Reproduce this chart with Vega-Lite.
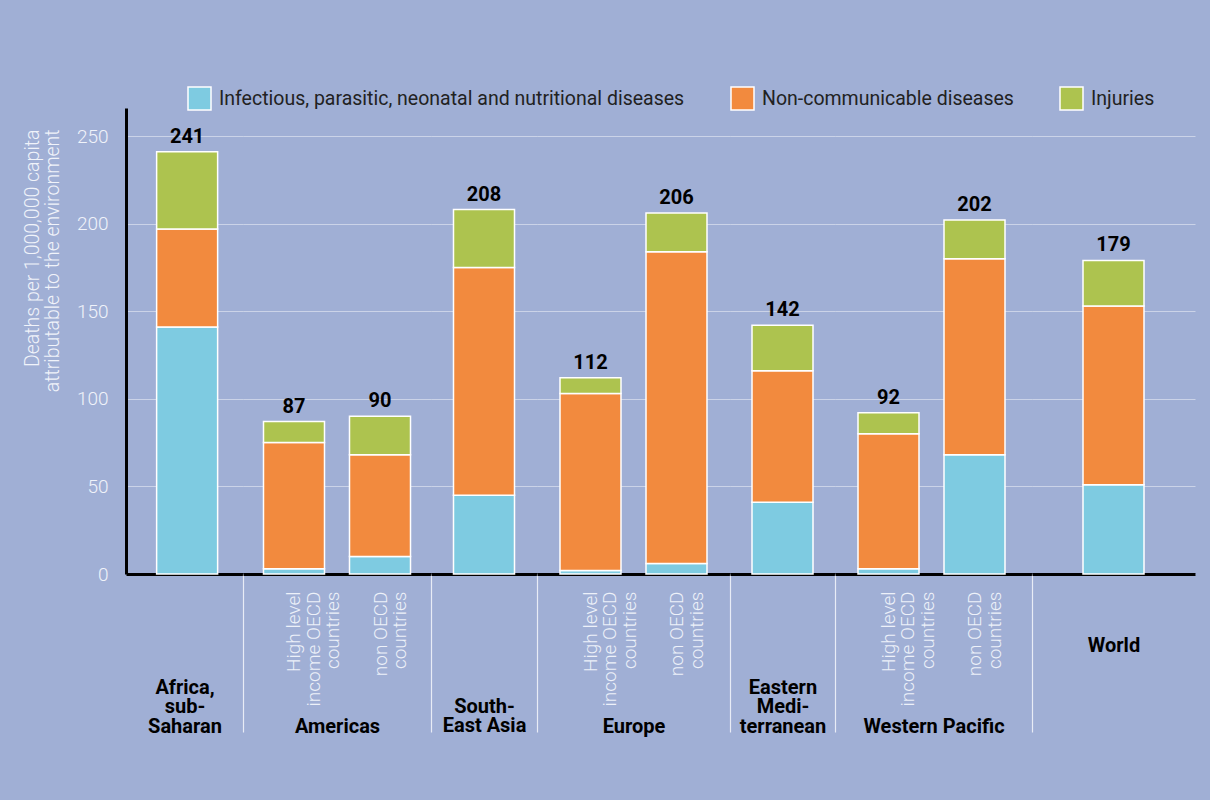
{
  "$schema": "https://vega.github.io/schema/vega-lite/v6.json",
  "background": "#a0afd5",
  "padding": {"left": 22, "top": 86, "right": 15, "bottom": 66},
  "bounds": "flush",
  "spacing": 0,
  "datasets": {
    "deaths": [
      {"region": "Africa, sub-Saharan", "sub": "all", "cause": "Infectious, parasitic, neonatal and nutritional diseases", "value": 141},
      {"region": "Africa, sub-Saharan", "sub": "all", "cause": "Non-communicable diseases", "value": 56},
      {"region": "Africa, sub-Saharan", "sub": "all", "cause": "Injuries", "value": 44},
      {"region": "Americas", "sub": "High level income OECD countries", "cause": "Infectious, parasitic, neonatal and nutritional diseases", "value": 3},
      {"region": "Americas", "sub": "High level income OECD countries", "cause": "Non-communicable diseases", "value": 72},
      {"region": "Americas", "sub": "High level income OECD countries", "cause": "Injuries", "value": 12},
      {"region": "Americas", "sub": "non OECD countries", "cause": "Infectious, parasitic, neonatal and nutritional diseases", "value": 10},
      {"region": "Americas", "sub": "non OECD countries", "cause": "Non-communicable diseases", "value": 58},
      {"region": "Americas", "sub": "non OECD countries", "cause": "Injuries", "value": 22},
      {"region": "South-East Asia", "sub": "all", "cause": "Infectious, parasitic, neonatal and nutritional diseases", "value": 45},
      {"region": "South-East Asia", "sub": "all", "cause": "Non-communicable diseases", "value": 130},
      {"region": "South-East Asia", "sub": "all", "cause": "Injuries", "value": 33},
      {"region": "Europe", "sub": "High level income OECD countries", "cause": "Infectious, parasitic, neonatal and nutritional diseases", "value": 2},
      {"region": "Europe", "sub": "High level income OECD countries", "cause": "Non-communicable diseases", "value": 101},
      {"region": "Europe", "sub": "High level income OECD countries", "cause": "Injuries", "value": 9},
      {"region": "Europe", "sub": "non OECD countries", "cause": "Infectious, parasitic, neonatal and nutritional diseases", "value": 6},
      {"region": "Europe", "sub": "non OECD countries", "cause": "Non-communicable diseases", "value": 178},
      {"region": "Europe", "sub": "non OECD countries", "cause": "Injuries", "value": 22},
      {"region": "Eastern Mediterranean", "sub": "all", "cause": "Infectious, parasitic, neonatal and nutritional diseases", "value": 41},
      {"region": "Eastern Mediterranean", "sub": "all", "cause": "Non-communicable diseases", "value": 75},
      {"region": "Eastern Mediterranean", "sub": "all", "cause": "Injuries", "value": 26},
      {"region": "Western Pacific", "sub": "High level income OECD countries", "cause": "Infectious, parasitic, neonatal and nutritional diseases", "value": 3},
      {"region": "Western Pacific", "sub": "High level income OECD countries", "cause": "Non-communicable diseases", "value": 77},
      {"region": "Western Pacific", "sub": "High level income OECD countries", "cause": "Injuries", "value": 12},
      {"region": "Western Pacific", "sub": "non OECD countries", "cause": "Infectious, parasitic, neonatal and nutritional diseases", "value": 68},
      {"region": "Western Pacific", "sub": "non OECD countries", "cause": "Non-communicable diseases", "value": 112},
      {"region": "Western Pacific", "sub": "non OECD countries", "cause": "Injuries", "value": 22},
      {"region": "World", "sub": "all", "cause": "Infectious, parasitic, neonatal and nutritional diseases", "value": 51},
      {"region": "World", "sub": "all", "cause": "Non-communicable diseases", "value": 102},
      {"region": "World", "sub": "all", "cause": "Injuries", "value": 26}
    ]
  },
  "data": {"name": "deaths"},
  "resolve": {
    "scale": {"x": "independent", "y": "independent", "color": "shared"},
    "axis": {"x": "independent", "y": "independent"},
    "legend": {"color": "shared"}
  },
  "hconcat": [
    {
      "width": 117, "height": 466,
      "transform": [{"filter": "datum.region === 'Africa, sub-Saharan'"}],
      "encoding": {
        "x": {"field": "sub", "type": "nominal", "scale": {"paddingInner": 0, "paddingOuter": 0.3, "align": 0.56},
              "axis": {"labels": false, "ticks": false, "title": ["Africa,", "sub-", "Saharan"], "titleY": 123}},
        "y": {"aggregate": "sum", "field": "value", "type": "quantitative", "scale": {"domain": [0, 266], "nice": false},
              "title": ["Deaths per 1,000,000 capita", "attributable to the environment"],
              "axis": {"values": [0, 50, 100, 150, 200, 250], "domain": true, "domainColor": "#000000", "domainWidth": 3,
                       "ticks": false, "labelPadding": 18, "labelFontSize": 19, "labelColor": "#f0f3fa", "labelFontWeight": 300,
                       "grid": true, "titleAngle": 270, "titleAlign": "right", "titleBaseline": "top", "titleX": -103, "titleY": 21,
                       "titleFontSize": 19.5, "titleFontWeight": 300, "titleColor": "#f0f3fa", "titleLineHeight": 20}}
      },
      "layer": [
        {"transform": [{"calculate": "indexof(['Infectious, parasitic, neonatal and nutritional diseases', 'Non-communicable diseases', 'Injuries'], datum.cause)", "as": "stackOrder"}],
         "mark": {"type": "bar", "width": 61, "stroke": "#ffffff", "strokeWidth": 1.5},
         "encoding": {"color": {"field": "cause", "type": "nominal", "sort": ["Infectious, parasitic, neonatal and nutritional diseases", "Non-communicable diseases", "Injuries"],
                                "scale": {"domain": ["Infectious, parasitic, neonatal and nutritional diseases", "Non-communicable diseases", "Injuries"], "range": ["#7ecbe1", "#f28a3e", "#adc34f"]}},
                      "order": {"field": "stackOrder", "type": "quantitative", "sort": "ascending"}}},
        {"mark": {"type": "text", "fontSize": 20, "fontWeight": "bold", "color": "#000000", "baseline": "alphabetic", "dy": -9},
         "encoding": {"text": {"aggregate": "sum", "field": "value", "type": "quantitative"}}}
      ]
    },
    {
      "width": 188, "height": 466,
      "transform": [{"filter": "datum.region === 'Americas'"}],
      "encoding": {
        "x": {"field": "sub", "type": "nominal", "sort": ["High level income OECD countries", "non OECD countries"],
              "scale": {"paddingInner": 0, "paddingOuter": 0.093},
              "axis": {"title": "Americas", "tickOffset": -8, "labelOffset": 8,
                       "labelExpr": "datum.value === 'High level income OECD countries' ? ['High level', 'income OECD', 'countries'] : ['non OECD', 'countries']",
                       "tickOpacity": {"condition": {"test": "datum.index === 0", "value": 1}, "value": 0}}},
        "y": {"aggregate": "sum", "field": "value", "type": "quantitative", "scale": {"domain": [0, 266], "nice": false},
              "axis": {"domain": false, "labels": false, "ticks": false, "title": null, "grid": true, "values": [0, 50, 100, 150, 200, 250]}}
      },
      "layer": [
        {"transform": [{"calculate": "indexof(['Infectious, parasitic, neonatal and nutritional diseases', 'Non-communicable diseases', 'Injuries'], datum.cause)", "as": "stackOrder"}],
         "mark": {"type": "bar", "width": 61, "stroke": "#ffffff", "strokeWidth": 1.5},
         "encoding": {"color": {"field": "cause", "type": "nominal", "sort": ["Infectious, parasitic, neonatal and nutritional diseases", "Non-communicable diseases", "Injuries"],
                                "scale": {"domain": ["Infectious, parasitic, neonatal and nutritional diseases", "Non-communicable diseases", "Injuries"], "range": ["#7ecbe1", "#f28a3e", "#adc34f"]}},
                      "order": {"field": "stackOrder", "type": "quantitative", "sort": "ascending"}}},
        {"mark": {"type": "text", "fontSize": 20, "fontWeight": "bold", "color": "#000000", "baseline": "alphabetic", "dy": -9},
         "encoding": {"text": {"aggregate": "sum", "field": "value", "type": "quantitative"}}}
      ]
    },
    {
      "width": 106, "height": 466,
      "transform": [{"filter": "datum.region === 'South-East Asia'"}],
      "encoding": {
        "x": {"field": "sub", "type": "nominal", "scale": {"paddingInner": 0, "paddingOuter": 0},
              "axis": {"labels": false, "title": ["South-", "East Asia"], "titleY": 142}},
        "y": {"aggregate": "sum", "field": "value", "type": "quantitative", "scale": {"domain": [0, 266], "nice": false},
              "axis": {"domain": false, "labels": false, "ticks": false, "title": null, "grid": true, "values": [0, 50, 100, 150, 200, 250]}}
      },
      "layer": [
        {"transform": [{"calculate": "indexof(['Infectious, parasitic, neonatal and nutritional diseases', 'Non-communicable diseases', 'Injuries'], datum.cause)", "as": "stackOrder"}],
         "mark": {"type": "bar", "width": 61, "stroke": "#ffffff", "strokeWidth": 1.5},
         "encoding": {"color": {"field": "cause", "type": "nominal", "sort": ["Infectious, parasitic, neonatal and nutritional diseases", "Non-communicable diseases", "Injuries"],
                                "scale": {"domain": ["Infectious, parasitic, neonatal and nutritional diseases", "Non-communicable diseases", "Injuries"], "range": ["#7ecbe1", "#f28a3e", "#adc34f"]}},
                      "order": {"field": "stackOrder", "type": "quantitative", "sort": "ascending"}}},
        {"mark": {"type": "text", "fontSize": 20, "fontWeight": "bold", "color": "#000000", "baseline": "alphabetic", "dy": -9},
         "encoding": {"text": {"aggregate": "sum", "field": "value", "type": "quantitative"}}}
      ]
    },
    {
      "width": 193, "height": 466,
      "transform": [{"filter": "datum.region === 'Europe'"}],
      "encoding": {
        "x": {"field": "sub", "type": "nominal", "sort": ["High level income OECD countries", "non OECD countries"],
              "scale": {"paddingInner": 0, "paddingOuter": 0.122},
              "axis": {"title": "Europe", "tickOffset": -10.5, "labelOffset": 10.5,
                       "labelExpr": "datum.value === 'High level income OECD countries' ? ['High level', 'income OECD', 'countries'] : ['non OECD', 'countries']",
                       "tickOpacity": {"condition": {"test": "datum.index === 0", "value": 1}, "value": 0}}},
        "y": {"aggregate": "sum", "field": "value", "type": "quantitative", "scale": {"domain": [0, 266], "nice": false},
              "axis": {"domain": false, "labels": false, "ticks": false, "title": null, "grid": true, "values": [0, 50, 100, 150, 200, 250]}}
      },
      "layer": [
        {"transform": [{"calculate": "indexof(['Infectious, parasitic, neonatal and nutritional diseases', 'Non-communicable diseases', 'Injuries'], datum.cause)", "as": "stackOrder"}],
         "mark": {"type": "bar", "width": 61, "stroke": "#ffffff", "strokeWidth": 1.5},
         "encoding": {"color": {"field": "cause", "type": "nominal", "sort": ["Infectious, parasitic, neonatal and nutritional diseases", "Non-communicable diseases", "Injuries"],
                                "scale": {"domain": ["Infectious, parasitic, neonatal and nutritional diseases", "Non-communicable diseases", "Injuries"], "range": ["#7ecbe1", "#f28a3e", "#adc34f"]}},
                      "order": {"field": "stackOrder", "type": "quantitative", "sort": "ascending"}}},
        {"mark": {"type": "text", "fontSize": 20, "fontWeight": "bold", "color": "#000000", "baseline": "alphabetic", "dy": -9},
         "encoding": {"text": {"aggregate": "sum", "field": "value", "type": "quantitative"}}}
      ]
    },
    {
      "width": 105, "height": 466,
      "transform": [{"filter": "datum.region === 'Eastern Mediterranean'"}],
      "encoding": {
        "x": {"field": "sub", "type": "nominal", "scale": {"paddingInner": 0, "paddingOuter": 0},
              "axis": {"labels": false, "title": ["Eastern", "Medi-", "terranean"], "titleY": 123}},
        "y": {"aggregate": "sum", "field": "value", "type": "quantitative", "scale": {"domain": [0, 266], "nice": false},
              "axis": {"domain": false, "labels": false, "ticks": false, "title": null, "grid": true, "values": [0, 50, 100, 150, 200, 250]}}
      },
      "layer": [
        {"transform": [{"calculate": "indexof(['Infectious, parasitic, neonatal and nutritional diseases', 'Non-communicable diseases', 'Injuries'], datum.cause)", "as": "stackOrder"}],
         "mark": {"type": "bar", "width": 61, "stroke": "#ffffff", "strokeWidth": 1.5},
         "encoding": {"color": {"field": "cause", "type": "nominal", "sort": ["Infectious, parasitic, neonatal and nutritional diseases", "Non-communicable diseases", "Injuries"],
                                "scale": {"domain": ["Infectious, parasitic, neonatal and nutritional diseases", "Non-communicable diseases", "Injuries"], "range": ["#7ecbe1", "#f28a3e", "#adc34f"]}},
                      "order": {"field": "stackOrder", "type": "quantitative", "sort": "ascending"}}},
        {"mark": {"type": "text", "fontSize": 20, "fontWeight": "bold", "color": "#000000", "baseline": "alphabetic", "dy": -9},
         "encoding": {"text": {"aggregate": "sum", "field": "value", "type": "quantitative"}}}
      ]
    },
    {
      "width": 197, "height": 466,
      "transform": [{"filter": "datum.region === 'Western Pacific'"}],
      "encoding": {
        "x": {"field": "sub", "type": "nominal", "sort": ["High level income OECD countries", "non OECD countries"],
              "scale": {"paddingInner": 0, "paddingOuter": 0.1453, "align": 0.42},
              "axis": {"title": "Western Pacific", "tickOffset": -10.5, "labelOffset": 10.5,
                       "labelExpr": "datum.value === 'High level income OECD countries' ? ['High level', 'income OECD', 'countries'] : ['non OECD', 'countries']",
                       "tickOpacity": {"condition": {"test": "datum.index === 0", "value": 1}, "value": 0}}},
        "y": {"aggregate": "sum", "field": "value", "type": "quantitative", "scale": {"domain": [0, 266], "nice": false},
              "axis": {"domain": false, "labels": false, "ticks": false, "title": null, "grid": true, "values": [0, 50, 100, 150, 200, 250]}}
      },
      "layer": [
        {"transform": [{"calculate": "indexof(['Infectious, parasitic, neonatal and nutritional diseases', 'Non-communicable diseases', 'Injuries'], datum.cause)", "as": "stackOrder"}],
         "mark": {"type": "bar", "width": 61, "stroke": "#ffffff", "strokeWidth": 1.5},
         "encoding": {"color": {"field": "cause", "type": "nominal", "sort": ["Infectious, parasitic, neonatal and nutritional diseases", "Non-communicable diseases", "Injuries"],
                                "scale": {"domain": ["Infectious, parasitic, neonatal and nutritional diseases", "Non-communicable diseases", "Injuries"], "range": ["#7ecbe1", "#f28a3e", "#adc34f"]}},
                      "order": {"field": "stackOrder", "type": "quantitative", "sort": "ascending"}}},
        {"mark": {"type": "text", "fontSize": 20, "fontWeight": "bold", "color": "#000000", "baseline": "alphabetic", "dy": -9},
         "encoding": {"text": {"aggregate": "sum", "field": "value", "type": "quantitative"}}}
      ]
    },
    {
      "width": 163, "height": 466,
      "transform": [{"filter": "datum.region === 'World'"}],
      "encoding": {
        "x": {"field": "sub", "type": "nominal", "scale": {"paddingInner": 0, "paddingOuter": 0},
              "axis": {"labels": false, "title": "World", "titleY": 81}},
        "y": {"aggregate": "sum", "field": "value", "type": "quantitative", "scale": {"domain": [0, 266], "nice": false},
              "axis": {"domain": false, "labels": false, "ticks": false, "title": null, "grid": true, "values": [0, 50, 100, 150, 200, 250]}}
      },
      "layer": [
        {"transform": [{"calculate": "indexof(['Infectious, parasitic, neonatal and nutritional diseases', 'Non-communicable diseases', 'Injuries'], datum.cause)", "as": "stackOrder"}],
         "mark": {"type": "bar", "width": 61, "stroke": "#ffffff", "strokeWidth": 1.5},
         "encoding": {"color": {"field": "cause", "type": "nominal", "sort": ["Infectious, parasitic, neonatal and nutritional diseases", "Non-communicable diseases", "Injuries"],
                                "scale": {"domain": ["Infectious, parasitic, neonatal and nutritional diseases", "Non-communicable diseases", "Injuries"], "range": ["#7ecbe1", "#f28a3e", "#adc34f"]}},
                      "order": {"field": "stackOrder", "type": "quantitative", "sort": "ascending"}}},
        {"mark": {"type": "text", "fontSize": 20, "fontWeight": "bold", "color": "#000000", "baseline": "alphabetic", "dy": -9},
         "encoding": {"text": {"aggregate": "sum", "field": "value", "type": "quantitative"}}}
      ]
    }
  ],
  "config": {
    "font": "Roboto",
    "view": {"stroke": null},
    "axis": {"gridColor": "#ffffff", "gridOpacity": 0.45, "gridWidth": 1},
    "axisX": {
      "domainColor": "#000000", "domainWidth": 3,
      "labelAngle": 270, "labelAlign": "right", "labelBaseline": "middle",
      "labelFontSize": 19, "labelFontWeight": 300, "labelColor": "#edf1f9", "labelLineHeight": 19.5,
      "labelPadding": -141, "labelOverlap": false, "labelLimit": 300,
      "tickSize": 158, "tickColor": "#e8ecf6", "tickWidth": 1.2, "bandPosition": 0,
      "titleFontSize": 20, "titleFontWeight": "bold", "titleColor": "#000000", "titleLineHeight": 19.5,
      "titleBaseline": "bottom", "titleY": 162
    },
    "legend": {
      "orient": "none", "legendX": 61, "legendY": -22, "direction": "horizontal",
      "title": null, "padding": 0, "symbolType": "square", "symbolSize": 529,
      "symbolStrokeColor": "#ffffff", "symbolStrokeWidth": 1.5, "symbolOpacity": 1, "symbolFillOpacity": 1,
      "labelFontSize": 19.5, "labelColor": "#222222",
      "labelOffset": 7, "columnPadding": 43, "labelLimit": 600
    }
  }
}
